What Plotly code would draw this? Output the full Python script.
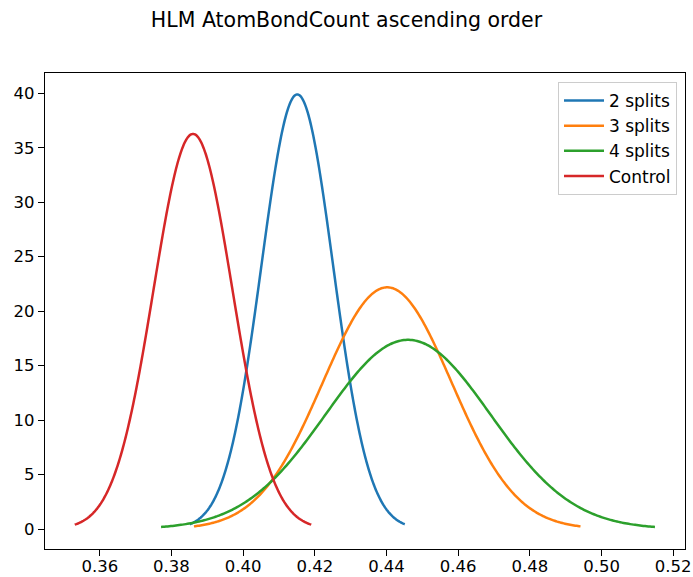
import numpy as np
import plotly.graph_objects as go

# Each curve is a normal density drawn over mean ± 3 standard deviations
series_names = ["2 splits", "3 splits", "4 splits", "Control"]
series_means = [0.4151, 0.4402, 0.4460, 0.3860]
series_stds = [0.01000, 0.01798, 0.02297, 0.01100]
series_colors = ["#1f77b4", "#ff7f0e", "#2ca02c", "#d62728"]

x_ticks = [0.36, 0.38, 0.40, 0.42, 0.44, 0.46, 0.48, 0.50, 0.52]
y_ticks = [0, 5, 10, 15, 20, 25, 30, 35, 40]

fig = go.Figure()
for name, mu, sd, color in zip(series_names, series_means, series_stds, series_colors):
    xs = np.linspace(mu - 3 * sd, mu + 3 * sd, 300)
    ys = np.exp(-0.5 * ((xs - mu) / sd) ** 2) / (sd * np.sqrt(2 * np.pi))
    fig.add_trace(go.Scatter(x=xs, y=ys, mode="lines", name=name,
                             line=dict(color=color, width=2.5, simplify=False)))

font = "DejaVu Sans"
axis_common = dict(showgrid=False, zeroline=False, showline=True, mirror=True,
                   linecolor="black", linewidth=1.3, ticks="outside",
                   ticklen=6, tickwidth=1.3, tickcolor="black", automargin=False,
                   tickfont=dict(family=font, size=16.5, color="black"))

fig.update_layout(
    width=693, height=577,
    margin=dict(l=45, r=8, t=73, b=28),
    paper_bgcolor="white", plot_bgcolor="white",
    title=dict(text="HLM AtomBondCount ascending order", x=0.5, xanchor="center",
               y=1 - 20 / 577, yanchor="middle",
               font=dict(family=font, size=20.5, color="black")),
    xaxis=dict(range=[0.3447, 0.5233], tickvals=x_ticks, ticklabelstandoff=-4,
               ticktext=[f"{v:.2f}" for v in x_ticks], **axis_common),
    yaxis=dict(range=[-1.83, 41.86], tickvals=y_ticks,
               ticktext=[str(v) for v in y_ticks], **axis_common),
    legend=dict(x=0.9875, y=0.981, xanchor="right", yanchor="top",
                bgcolor="rgba(255,255,255,0.8)", bordercolor="#cccccc", borderwidth=1,
                font=dict(family=font, size=17, color="black"),
                itemwidth=40, tracegroupgap=0),
    showlegend=True,
)

fig.write_html("out.html")
